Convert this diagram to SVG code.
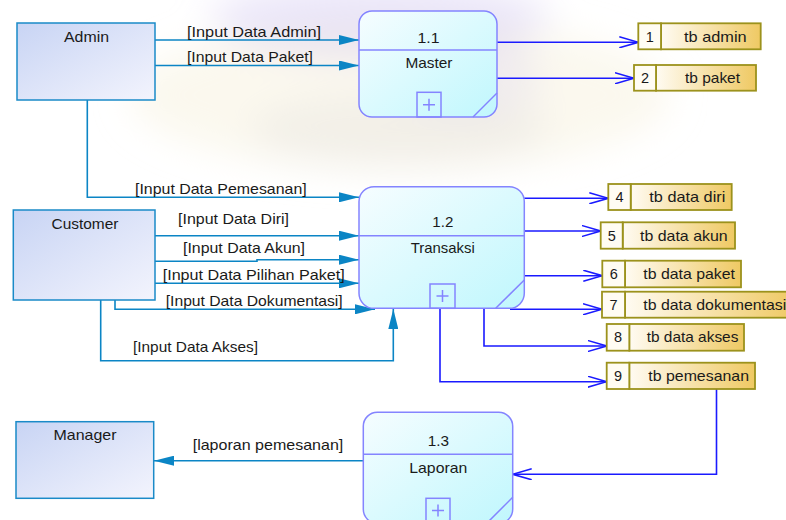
<svg xmlns="http://www.w3.org/2000/svg" width="786" height="520" viewBox="0 0 786 520">
  <style>
    .t { font-family: "Liberation Sans", Arial, sans-serif; font-size: 14.5px; fill: #1a1a1a; }
    .mid { text-anchor: middle; }
    .ent { fill: url(#entFill); stroke: #1a8ac8; stroke-width: 1.5; }
    .proc { fill: url(#procFill); stroke: #8484ff; stroke-width: 1.5; }
    .procLine { stroke: #8484ff; stroke-width: 1.5; fill: none; }
    .storeNum { fill: #fffcf3; stroke: #9c921c; stroke-width: 1.8; }
    .storeTxt { fill: url(#storeFill); stroke: #9c921c; stroke-width: 1.8; }
    .flowIn { fill: none; stroke: #0b85c5; stroke-width: 1.6; marker-end: url(#solidHead); }
    .flowOut { fill: none; stroke: #1a1aff; stroke-width: 1.6; marker-end: url(#openHead); }
  </style>
  <defs>
    <linearGradient id="entFill" x1="0" y1="0" x2="1" y2="1">
      <stop offset="0" stop-color="#c8d4f4"/>
      <stop offset="1" stop-color="#f3f4fd"/>
    </linearGradient>
    <linearGradient id="procFill" x1="0" y1="0" x2="1" y2="1">
      <stop offset="0" stop-color="#f6fdff"/>
      <stop offset="1" stop-color="#c0f7fd"/>
    </linearGradient>
    <linearGradient id="storeFill" x1="0" y1="0" x2="1" y2="0">
      <stop offset="0" stop-color="#fffbf2"/>
      <stop offset="1" stop-color="#efc963"/>
    </linearGradient>
    <filter id="soft" x="-50%" y="-50%" width="200%" height="200%">
      <feGaussianBlur stdDeviation="18"/>
    </filter>
    <marker id="solidHead" viewBox="0 0 20 10" refX="20" refY="5" markerWidth="20" markerHeight="10" markerUnits="userSpaceOnUse" orient="auto">
      <path d="M0,0 L20,5 L0,10 z" fill="#0b85c5"/>
    </marker>
    <marker id="openHead" viewBox="0 0 20 12" refX="19" refY="6" markerWidth="20" markerHeight="12" markerUnits="userSpaceOnUse" orient="auto">
      <path d="M0,0.5 L19,6 L0,11.5" fill="none" stroke="#1a1aff" stroke-width="1.5"/>
    </marker>
  </defs>

  <!-- background with faint wash -->
  <rect x="0" y="0" width="786" height="520" fill="#ffffff"/>
  <g id="backdrop" filter="url(#soft)">
    <ellipse cx="400" cy="95" rx="270" ry="75" fill="#f7f2de" opacity="0.5"/>
    <ellipse cx="380" cy="18" rx="170" ry="40" fill="#cfc6f2" opacity="0.4"/>
    <ellipse cx="470" cy="80" rx="70" ry="40" fill="#d6d0f0" opacity="0.3"/>
    <ellipse cx="400" cy="130" rx="150" ry="35" fill="#e6e3e0" opacity="0.4"/>
  </g>

  <!-- connectors -->
  <g id="connectors">
    <!-- external entities into processes -->
    <line class="flowIn" x1="155" y1="40" x2="359" y2="40"/>
    <line class="flowIn" x1="155" y1="65.5" x2="359" y2="65.5"/>
    <polyline class="flowIn" points="87.3,100 87.3,197.3 359,197.3"/>
    <line class="flowIn" x1="155" y1="235.7" x2="359" y2="235.7"/>
    <polyline class="flowIn" points="155,261.3 257,261.3 257,259.7 359,259.7"/>
    <line class="flowIn" x1="155" y1="283.3" x2="359" y2="283.3"/>
    <polyline class="flowIn" points="115,300 115,309.3 375,309.3"/>
    <polyline class="flowIn" points="100.7,300 100.7,360.7 393.3,360.7 393.3,309"/>
    <line class="flowIn" x1="363.3" y1="460.7" x2="154" y2="460.7"/>

    <!-- processes into data stores -->
    <line class="flowOut" x1="497" y1="42.3" x2="638.3" y2="42.3"/>
    <line class="flowOut" x1="497" y1="78.3" x2="634" y2="78.3"/>
    <line class="flowOut" x1="524.3" y1="198.3" x2="608.3" y2="198.3"/>
    <line class="flowOut" x1="524.3" y1="231" x2="600.7" y2="231"/>
    <line class="flowOut" x1="524.3" y1="275.7" x2="602.3" y2="275.7"/>
    <line class="flowOut" x1="510" y1="309.3" x2="602" y2="309.3"/>
    <polyline class="flowOut" points="484,308.3 484,346 606.7,346"/>
    <polyline class="flowOut" points="440,308.3 440,381.7 606.7,381.7"/>
    <polyline class="flowOut" points="716.5,389 716.5,474.3 512.7,474.3"/>
  </g>

  <!-- connector labels -->
  <g id="flow-labels">
    <text class="t" x="187" y="37" textLength="134" lengthAdjust="spacingAndGlyphs">[Input Data Admin]</text>
    <text class="t" x="187" y="62" textLength="126" lengthAdjust="spacingAndGlyphs">[Input Data Paket]</text>
    <text class="t" x="135" y="193.5" textLength="171.7" lengthAdjust="spacingAndGlyphs">[Input Data Pemesanan]</text>
    <text class="t" x="178" y="223.5" textLength="111" lengthAdjust="spacingAndGlyphs">[Input Data Diri]</text>
    <text class="t" x="183" y="252.5" textLength="122" lengthAdjust="spacingAndGlyphs">[Input Data Akun]</text>
    <text class="t" x="162.7" y="280" textLength="182" lengthAdjust="spacingAndGlyphs">[Input Data Pilihan Paket]</text>
    <text class="t" x="165.7" y="305.5" textLength="177" lengthAdjust="spacingAndGlyphs">[Input Data Dokumentasi]</text>
    <text class="t" x="133" y="351.5" textLength="125" lengthAdjust="spacingAndGlyphs">[Input Data Akses]</text>
    <text class="t" x="192.7" y="450" textLength="150.6" lengthAdjust="spacingAndGlyphs">[laporan pemesanan]</text>
  </g>

  <!-- external entities -->
  <g id="admin">
    <rect class="ent" x="17" y="23" width="138" height="77"/>
    <text class="t mid" x="86.5" y="41.5" textLength="45" lengthAdjust="spacingAndGlyphs">Admin</text>
  </g>
  <g id="customer">
    <rect class="ent" x="13.3" y="210" width="141.7" height="90"/>
    <text class="t mid" x="85" y="229" textLength="67" lengthAdjust="spacingAndGlyphs">Customer</text>
  </g>
  <g id="manager">
    <rect class="ent" x="16" y="421.7" width="137.7" height="76.6"/>
    <text class="t mid" x="85" y="440" textLength="63" lengthAdjust="spacingAndGlyphs">Manager</text>
  </g>

  <!-- processes -->
  <g id="p1-1">
    <rect class="proc" x="359" y="11" width="138" height="106" rx="13"/>
    <line class="procLine" x1="359" y1="50" x2="497" y2="50"/>
    <rect class="procLine" x="417" y="92.3" width="24" height="24.7"/>
    <path class="procLine" d="M423,104.7 H435 M429,98.7 V110.7"/>
    <line class="procLine" x1="473" y1="117" x2="497" y2="93"/>
    <text class="t mid" x="428.5" y="43" textLength="22" lengthAdjust="spacingAndGlyphs">1.1</text>
    <text class="t mid" x="429" y="67.7" textLength="47" lengthAdjust="spacingAndGlyphs">Master</text>
  </g>
  <g id="p1-2">
    <rect class="proc" x="359" y="186.7" width="165.3" height="121.6" rx="15"/>
    <line class="procLine" x1="359" y1="235.7" x2="524.3" y2="235.7"/>
    <rect class="procLine" x="430" y="284" width="25" height="24.3"/>
    <path class="procLine" d="M436.5,296 H448.5 M442.5,290 V302"/>
    <line class="procLine" x1="495.7" y1="308.3" x2="524.3" y2="280"/>
    <text class="t mid" x="442.8" y="227.3" textLength="21" lengthAdjust="spacingAndGlyphs">1.2</text>
    <text class="t mid" x="442.7" y="252.7" textLength="64" lengthAdjust="spacingAndGlyphs">Transaksi</text>
  </g>
  <g id="p1-3">
    <rect class="proc" x="363.3" y="412.3" width="149.4" height="111" rx="14"/>
    <line class="procLine" x1="363.3" y1="454.3" x2="512.7" y2="454.3"/>
    <rect class="procLine" x="426" y="498.3" width="24" height="25"/>
    <path class="procLine" d="M432,510.5 H444 M438,504.5 V516.5"/>
    <line class="procLine" x1="487" y1="523" x2="512.7" y2="497.3"/>
    <text class="t mid" x="438.3" y="446" textLength="21.3" lengthAdjust="spacingAndGlyphs">1.3</text>
    <text class="t mid" x="438.3" y="472.5" textLength="58" lengthAdjust="spacingAndGlyphs">Laporan</text>
  </g>

  <!-- data stores -->
  <g id="ds1">
    <rect class="storeTxt" x="661" y="23.3" width="99.7" height="26"/>
    <rect class="storeNum" x="638.3" y="23.3" width="22.7" height="26"/>
    <text class="t mid" x="649.7" y="41.7">1</text>
    <text class="t" x="684" y="41.7" textLength="62.7" lengthAdjust="spacingAndGlyphs">tb admin</text>
  </g>
  <g id="ds2">
    <rect class="storeTxt" x="656" y="65" width="100" height="25.7"/>
    <rect class="storeNum" x="634" y="65" width="22" height="25.7"/>
    <text class="t mid" x="645" y="83.3">2</text>
    <text class="t" x="685" y="83.3" textLength="55" lengthAdjust="spacingAndGlyphs">tb paket</text>
  </g>
  <g id="ds4">
    <rect class="storeTxt" x="630.7" y="184" width="101" height="26"/>
    <rect class="storeNum" x="608.3" y="184" width="22.4" height="26"/>
    <text class="t mid" x="619.5" y="202.4">4</text>
    <text class="t" x="649.3" y="202.4" textLength="76" lengthAdjust="spacingAndGlyphs">tb data diri</text>
  </g>
  <g id="ds5">
    <rect class="storeTxt" x="622.7" y="222.3" width="112.3" height="26.4"/>
    <rect class="storeNum" x="600.7" y="222.3" width="22" height="26.4"/>
    <text class="t mid" x="611.7" y="240.7">5</text>
    <text class="t" x="640" y="240.7" textLength="87.7" lengthAdjust="spacingAndGlyphs">tb data akun</text>
  </g>
  <g id="ds6">
    <rect class="storeTxt" x="625" y="260.7" width="116" height="26.6"/>
    <rect class="storeNum" x="602.3" y="260.7" width="22.7" height="26.6"/>
    <text class="t mid" x="613.7" y="279">6</text>
    <text class="t" x="643.3" y="279" textLength="91.7" lengthAdjust="spacingAndGlyphs">tb data paket</text>
  </g>
  <g id="ds7">
    <rect class="storeTxt" x="625" y="291.7" width="170" height="26"/>
    <rect class="storeNum" x="602" y="291.7" width="23" height="26"/>
    <text class="t mid" x="613.5" y="310">7</text>
    <text class="t" x="643.3" y="310" textLength="143" lengthAdjust="spacingAndGlyphs">tb data dokumentasi</text>
  </g>
  <g id="ds8">
    <rect class="storeTxt" x="629.3" y="324" width="114.7" height="26.7"/>
    <rect class="storeNum" x="606.7" y="324" width="22.6" height="26.7"/>
    <text class="t mid" x="618" y="342.4">8</text>
    <text class="t" x="646.7" y="342.4" textLength="91.7" lengthAdjust="spacingAndGlyphs">tb data akses</text>
  </g>
  <g id="ds9">
    <rect class="storeTxt" x="629.3" y="362.7" width="125.7" height="26.3"/>
    <rect class="storeNum" x="606.7" y="362.7" width="22.6" height="26.3"/>
    <text class="t mid" x="618" y="381.2">9</text>
    <text class="t" x="648.3" y="381.2" textLength="100.7" lengthAdjust="spacingAndGlyphs">tb pemesanan</text>
  </g>
</svg>
